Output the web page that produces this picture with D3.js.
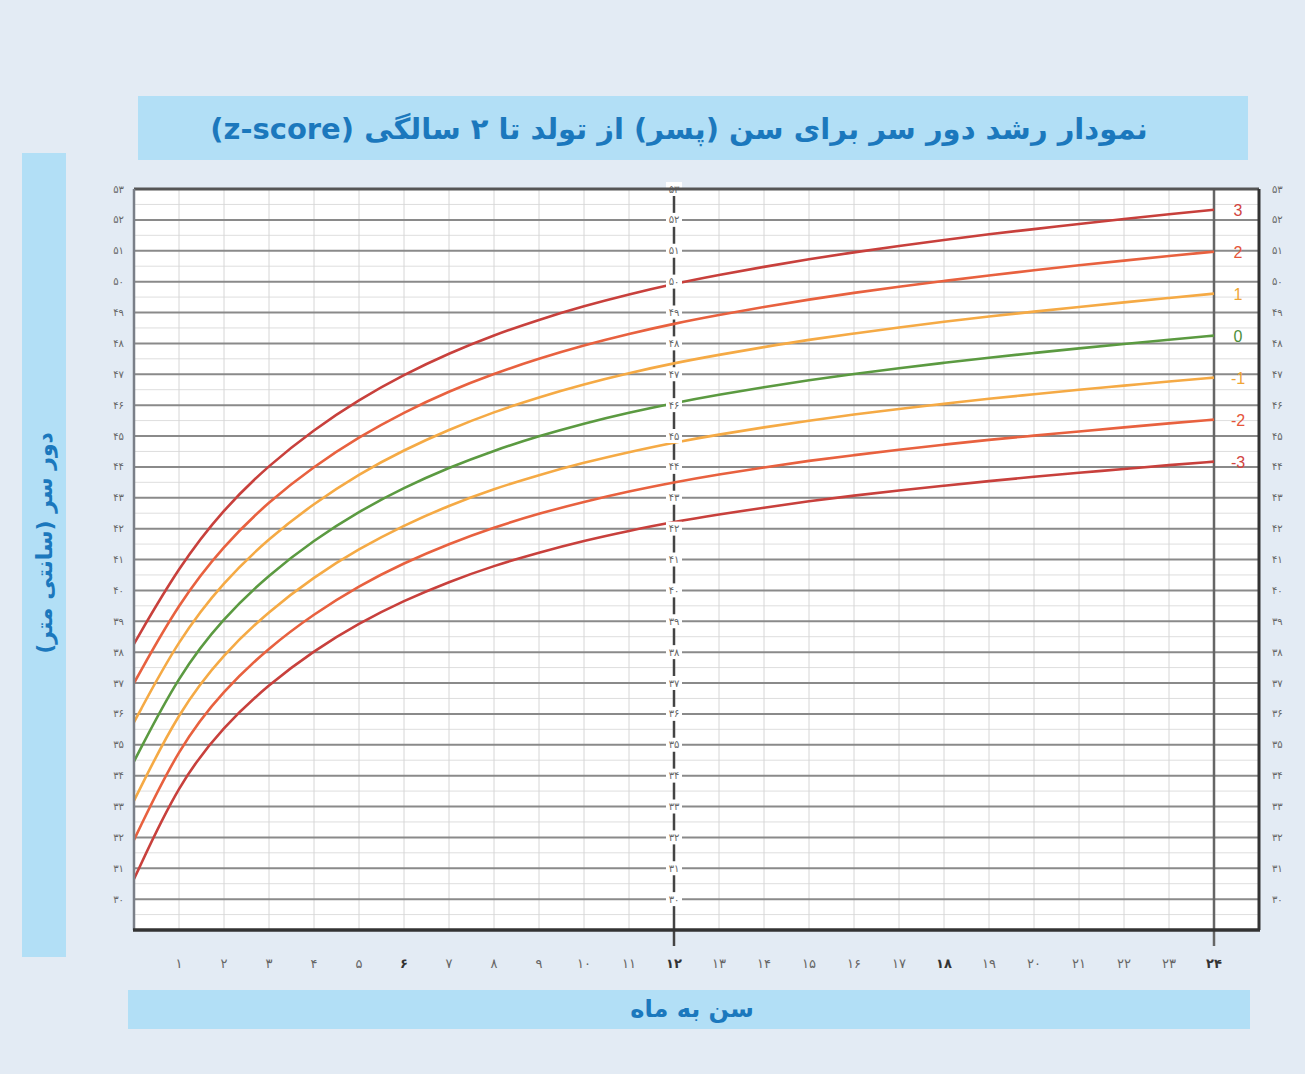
<!DOCTYPE html>
<html><head><meta charset="utf-8">
<script src="https://cdn.jsdelivr.net/npm/d3@7"></script>
<style>body{margin:0;background:#e3ebf4;overflow:hidden}</style>
</head><body>
<script>
// ---- data (head circumference-for-age, boys, z-score curves, cm) ----
const months = d3.range(0, 25);
const sd3    = [38.27,40.78,42.65,44.06,45.21,46.18,46.99,47.68,48.27,48.77,49.21,49.59,49.93,50.22,50.48,50.73,50.95,51.16,51.35,51.54,51.70,51.87,52.03,52.18,52.33];
const sd2    = [37.00,39.61,41.47,42.88,44.02,44.97,45.77,46.45,47.02,47.51,47.94,48.31,48.64,48.92,49.18,49.42,49.64,49.84,50.02,50.20,50.37,50.53,50.68,50.83,50.97];
const sd1    = [35.73,38.44,40.30,41.69,42.82,43.77,44.55,45.21,45.78,46.26,46.68,47.04,47.36,47.63,47.88,48.12,48.32,48.52,48.70,48.87,49.03,49.18,49.33,49.47,49.61];
const sd0    = [34.46,37.28,39.13,40.51,41.63,42.56,43.33,43.98,44.53,45.00,45.41,45.76,46.07,46.34,46.58,46.81,47.01,47.20,47.37,47.54,47.69,47.84,47.98,48.12,48.25];
const sdNeg1 = [33.19,36.11,37.96,39.33,40.44,41.35,42.11,42.75,43.29,43.74,44.14,44.48,44.79,45.05,45.28,45.50,45.70,45.88,46.04,46.21,46.35,46.50,46.63,46.77,46.89];
const sdNeg2 = [31.92,34.94,36.78,38.15,39.24,40.15,40.89,41.51,42.04,42.49,42.87,43.21,43.50,43.76,43.98,44.20,44.38,44.56,44.72,44.88,45.01,45.15,45.28,45.41,45.53];
const sdNeg3 = [30.65,33.78,35.61,36.96,38.05,38.94,39.67,40.28,40.80,41.23,41.61,41.93,42.22,42.46,42.68,42.89,43.07,43.24,43.39,43.54,43.68,43.81,43.93,44.06,44.17];
const seriesNames = ["3","2","1","0","-1","-2","-3"];
const seriesValues = [sd3, sd2, sd1, sd0, sdNeg1, sdNeg2, sdNeg3];
const seriesColors = ["#c8403c","#e8613f","#f5aa45","#5b9a41","#f5aa45","#e8613f","#c8403c"];
const labelColors  = ["#d2453f","#e5553a","#f0a535","#4e8f3a","#f0a535","#e5553a","#d2453f"];
const yTicks = d3.range(30, 54);
const xTicks = d3.range(1, 25);
const boldMonths = [6, 12, 18, 24];
const titleText = "نمودار رشد دور سر برای سن (پسر)  از تولد تا ۲ سالگی (z-score)";
const yTitle = "دور سر (سانتی متر)";
const xTitle = "سن به ماه";

const fa = n => String(n).replace(/\d/g, d => "۰۱۲۳۴۵۶۷۸۹"[d]);

// ---- layout ----
const W = 1305, H = 1074;
const svg = d3.select("body").append("svg").attr("width", W).attr("height", H);
svg.append("rect").attr("width", W).attr("height", H).attr("fill", "#e3ebf4");

const x = d3.scaleLinear().domain([0, 25]).range([134, 1259]);
const y = d3.scaleLinear().domain([29, 53]).range([930, 189]);

// title band
svg.append("rect").attr("x", 138).attr("y", 96).attr("width", 1110).attr("height", 64).attr("fill", "#b2dff6");
svg.append("text").attr("x", 679).attr("y", 139)
  .attr("font-family", "DejaVu Sans").attr("font-weight", "bold").attr("font-size", 29)
  .attr("fill", "#1b78bd").attr("direction", "rtl").attr("text-anchor", "middle").text(titleText);

// y title band
svg.append("rect").attr("x", 22).attr("y", 153).attr("width", 44).attr("height", 804).attr("fill", "#b2dff6");
svg.append("text").attr("transform", "translate(52,543) rotate(-90)").attr("text-anchor", "middle")
  .attr("font-family", "DejaVu Sans").attr("font-weight", "bold").attr("font-size", 22)
  .attr("fill", "#1b78bd").text(yTitle);

// x title band
svg.append("rect").attr("x", 128).attr("y", 990).attr("width", 1122).attr("height", 39).attr("fill", "#b2dff6");
svg.append("text").attr("x", 692).attr("y", 1017).attr("text-anchor", "middle")
  .attr("font-family", "DejaVu Sans").attr("font-weight", "bold").attr("font-size", 24)
  .attr("fill", "#1b78bd").text(xTitle);

// plot background
svg.append("rect").attr("x", x(0)).attr("y", y(53)).attr("width", x(25) - x(0)).attr("height", y(29) - y(53)).attr("fill", "#ffffff");

const g = svg.append("g");
// minor horizontal
g.selectAll(".hmin").data(d3.range(29.5, 53, 1)).join("line")
  .attr("x1", x(0)).attr("x2", x(25)).attr("y1", d => y(d)).attr("y2", d => y(d))
  .attr("stroke", "#dedede").attr("stroke-width", 1);
// vertical month lines
g.selectAll(".vmin").data(d3.range(1, 25)).join("line")
  .attr("x1", d => x(d)).attr("x2", d => x(d)).attr("y1", y(53)).attr("y2", y(29))
  .attr("stroke", "#d6d6d6").attr("stroke-width", 1);
// major horizontal
g.selectAll(".hmaj").data(yTicks).join("line")
  .attr("x1", x(0)).attr("x2", x(25)).attr("y1", d => y(d)).attr("y2", d => y(d))
  .attr("stroke", "#8a8a8a").attr("stroke-width", 2);

// month 24 line
g.append("line").attr("x1", x(24)).attr("x2", x(24)).attr("y1", y(53)).attr("y2", y(29) + 16)
  .attr("stroke", "#666").attr("stroke-width", 2.5);
// month 12 center axis
g.append("line").attr("x1", x(12)).attr("x2", x(12)).attr("y1", y(53)).attr("y2", y(29) + 16)
  .attr("stroke", "#444").attr("stroke-width", 2.5);

// curves
const line = d3.line().x((d, i) => x(months[i])).y(d => y(d)).curve(d3.curveBasis);
g.selectAll(".curve").data(seriesValues).join("path")
  .attr("d", d => line(d)).attr("fill", "none")
  .attr("stroke", (d, i) => seriesColors[i]).attr("stroke-width", 2.6);

// center axis labels
const cl = g.selectAll(".cl").data(yTicks).join("g").attr("transform", d => `translate(${x(12)},${y(d)})`);
cl.append("rect").attr("x", -8).attr("y", -7).attr("width", 16).attr("height", 14).attr("fill", "#fff");
cl.append("text").attr("text-anchor", "middle").attr("dy", "0.35em")
  .attr("font-family", "DejaVu Sans").attr("font-size", 10).attr("fill", "#666").text(d => fa(d));

// borders
svg.append("line").attr("x1", x(0)).attr("x2", x(25)).attr("y1", y(53)).attr("y2", y(53)).attr("stroke", "#555").attr("stroke-width", 3);
svg.append("line").attr("x1", x(0)).attr("x2", x(0)).attr("y1", y(53)).attr("y2", y(29)).attr("stroke", "#7a7f88").attr("stroke-width", 2.5);
svg.append("line").attr("x1", x(25)).attr("x2", x(25)).attr("y1", y(53)).attr("y2", y(29)).attr("stroke", "#333").attr("stroke-width", 3);
svg.append("line").attr("x1", x(0) - 1).attr("x2", x(25) + 1).attr("y1", y(29)).attr("y2", y(29)).attr("stroke", "#333").attr("stroke-width", 3.5);

// left / right tick labels
svg.selectAll(".yl").data(yTicks).join("text")
  .attr("x", 124).attr("y", d => y(d)).attr("dy", "0.35em").attr("text-anchor", "end")
  .attr("font-family", "DejaVu Sans").attr("font-size", 10).attr("fill", "#666").text(d => fa(d));
svg.selectAll(".yr").data(yTicks).join("text")
  .attr("x", 1272).attr("y", d => y(d)).attr("dy", "0.35em").attr("text-anchor", "start")
  .attr("font-family", "DejaVu Sans").attr("font-size", 10).attr("fill", "#666").text(d => fa(d));

// x tick labels
svg.selectAll(".xl").data(xTicks).join("text")
  .attr("x", d => x(d)).attr("y", 968).attr("text-anchor", "middle")
  .attr("font-family", "DejaVu Sans").attr("font-size", 13)
  .attr("font-weight", d => boldMonths.includes(d) ? "bold" : "normal")
  .attr("fill", d => boldMonths.includes(d) ? "#333" : "#666").text(d => fa(d));

// curve labels
svg.selectAll(".zl").data(seriesValues).join("text")
  .attr("x", 1238).attr("y", d => y(d[24])).attr("dy", "0.4em").attr("text-anchor", "middle")
  .attr("font-family", "Liberation Sans").attr("font-size", 16)
  .attr("fill", (d, i) => labelColors[i]).text((d, i) => seriesNames[i]);
</script>
</body></html>
